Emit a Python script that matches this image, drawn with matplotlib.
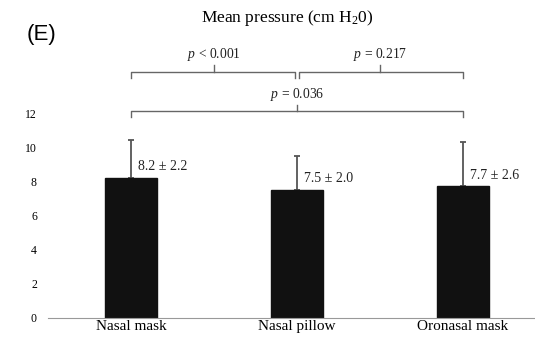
import matplotlib
matplotlib.use("Agg")
import matplotlib.pyplot as plt

categories = ["Nasal mask", "Nasal pillow", "Oronasal mask"]
means = [8.2, 7.5, 7.7]
sds = [2.2, 2.0, 2.6]
value_labels = ["8.2 ± 2.2", "7.5 ± 2.0", "7.7 ± 2.6"]
yticks = [0, 2, 4, 6, 8, 10, 12]
comparisons = [(0, 1, 14.4, "< 0.001"), (1, 2, 14.4, "= 0.217"), (0, 2, 12.1, "= 0.036")]

plt.rcParams['font.family'] = ['Liberation Serif', 'DejaVu Serif']
plt.rcParams['mathtext.fontset'] = 'custom'
plt.rcParams['mathtext.rm'] = 'Liberation Serif'
plt.rcParams['mathtext.it'] = 'Liberation Serif:italic'

fig = plt.figure(figsize=(5.35, 3.42), dpi=100)
ax = fig.add_axes([0.0897, 0.0702, 0.9103, 0.799])
ax.set_xlim(-0.5, 2.434)
ax.set_ylim(0, 16)

x = list(range(len(categories)))
ax.bar(x, means, width=0.313, color='#111111', edgecolor='#111111', zorder=2)
ax.errorbar(x, means, yerr=[[0] * len(sds), sds], fmt='none', ecolor='#555555',
            elinewidth=1.3, capsize=2.2, capthick=1.3, zorder=1)
for xi, m, lab in zip(x, means, value_labels):
    ax.text(xi + 0.045, m + 0.65, lab, fontsize=10, ha='left', va='center', color='#222222')

for s in ['top', 'right', 'left']:
    ax.spines[s].set_visible(False)
ax.spines['bottom'].set_color('#999999')
ax.spines['bottom'].set_linewidth(0.8)
ax.set_yticks(yticks)
ax.set_yticklabels([str(t) for t in yticks], fontsize=8.5)
ax.tick_params(axis='y', length=0, pad=8)
ax.set_xticks(x)
ax.set_xticklabels(categories, fontsize=11)
ax.tick_params(axis='x', length=0, pad=1.5)

bc = '#666666'
gap = 0.012
for a, b, y, txt in comparisons:
    d = 0.35
    if b - a == 1:
        a2, b2 = (a + gap if a > 0 else a), (b - gap if b < 2 else b)
    else:
        a2, b2 = a, b
    ax.plot([a2, a2, b2, b2], [y - d, y, y, y - d], color=bc, lw=1.0, clip_on=False,
            solid_joinstyle='round')
    mid = (a + b) / 2
    ax.plot([mid, mid], [y, y + 0.4], color=bc, lw=1.0, clip_on=False)
    ax.text(mid, y + 1.0, r"$p$ " + txt, fontsize=9.8, ha='center', va='center', color='#222222')

fig.text(0.537, 0.947, r"Mean pressure (cm H$_2$0)", fontsize=12.5, ha='center', va='center')
fig.text(0.05, 0.9, "(E)", fontsize=16, ha='left', va='center', family='Liberation Sans')

fig.savefig("out.png", dpi=100)
